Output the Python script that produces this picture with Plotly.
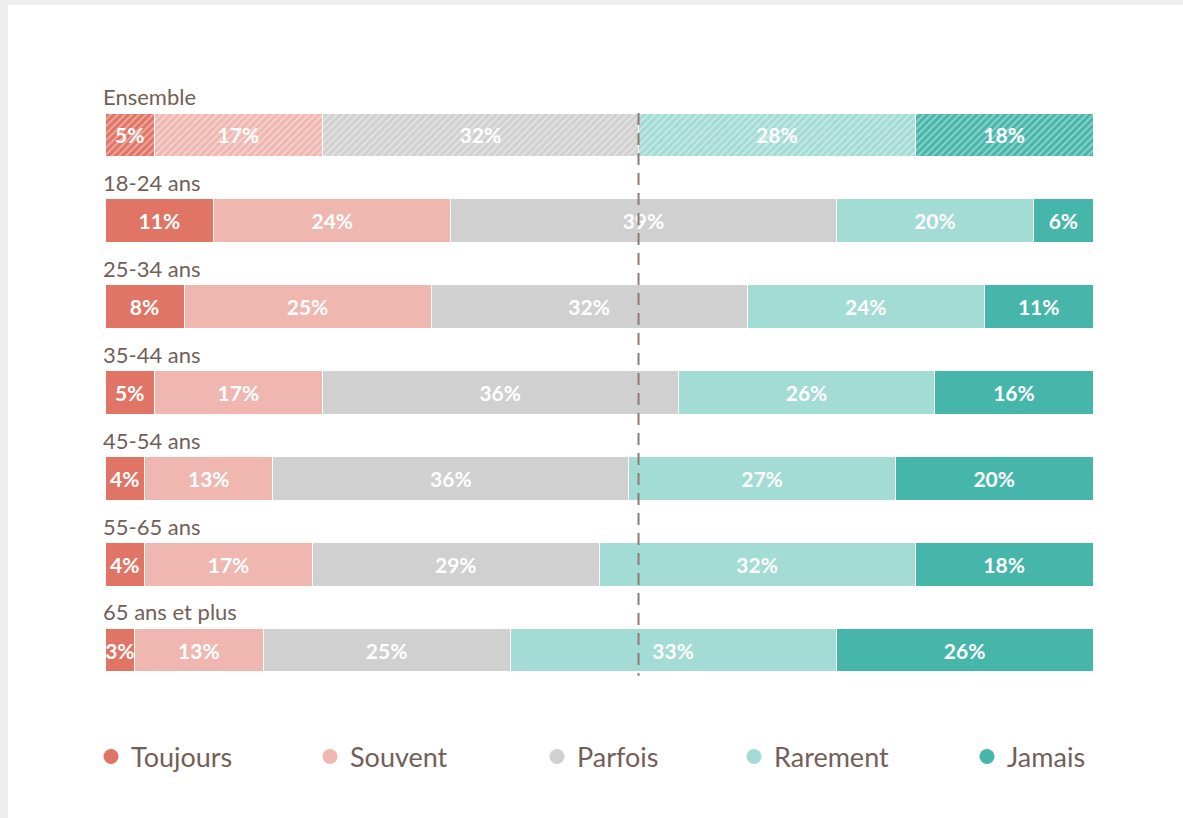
import plotly.graph_objects as go

rows = ["Ensemble", "18-24 ans", "25-34 ans", "35-44 ans", "45-54 ans", "55-65 ans", "65 ans et plus"]
series = ["Toujours", "Souvent", "Parfois", "Rarement", "Jamais"]
toujours = [5, 11, 8, 5, 4, 4, 3]
souvent = [17, 24, 25, 17, 13, 17, 13]
parfois = [32, 39, 32, 36, 36, 29, 25]
rarement = [28, 20, 24, 26, 27, 32, 33]
jamais = [18, 6, 11, 16, 20, 18, 26]
values = [toujours, souvent, parfois, rarement, jamais]
colors = ["#e07465", "#efb7b0", "#d0d0d0", "#a3dbd5", "#46b6ab"]
reference_line = 54  # boundary Parfois / Rarement for "Ensemble"

FONT = "Lato"
BROWN = "#735f58"

W, H = 1183, 818
ML, MR, MT, MB = 105, W - 1093, 92, H - 693
pw = W - ML - MR
ph = H - MT - MB

fig = go.Figure()
ypos = list(range(len(rows)))

for s, vals, col in zip(series, values, colors):
    # overall row (hatched)
    fig.add_trace(go.Bar(
        y=[ypos[0]], x=[vals[0]], orientation="h", name=s,
        marker=dict(color=col, line=dict(color="white", width=1),
                    pattern=dict(shape="/", fgcolor="rgba(255,255,255,0.8)", bgcolor=col,
                                 size=5, solidity=0.35)),
        text=[f"{vals[0]}%"], textposition="inside", insidetextanchor="middle", textangle=0,
        textfont=dict(color="white", size=21, family=FONT, weight="bold"),
        width=0.51, showlegend=False, hoverinfo="skip", cliponaxis=False,
    ))
    fig.add_trace(go.Bar(
        y=ypos[1:], x=vals[1:], orientation="h", name=s,
        marker=dict(color=col, line=dict(color="white", width=1)),
        text=[f"{v}%" for v in vals[1:]], textposition="inside", insidetextanchor="middle", textangle=0,
        textfont=dict(color="white", size=21, family=FONT, weight="bold"),
        width=0.51, showlegend=False, hoverinfo="skip", cliponaxis=False,
    ))

# legend entries with circle symbols, each in its own legend box
legend_px = [91, 310, 537, 734, 967]
for i, (s, col) in enumerate(zip(series, colors)):
    lname = "legend" if i == 0 else f"legend{i+1}"
    fig.add_trace(go.Scatter(
        x=[None], y=[None], mode="markers", name=s,
        marker=dict(color=col, size=15, symbol="circle"),
        legend=lname, showlegend=True,
    ))

legend_common = dict(orientation="h", yanchor="middle", y=(693 - 757) / ph,
                     xanchor="left", font=dict(family=FONT, size=27, color=BROWN),
                     bgcolor="rgba(0,0,0,0)", borderwidth=0)
layout_legends = {}
for i, px in enumerate(legend_px):
    lname = "legend" if i == 0 else f"legend{i+1}"
    layout_legends[lname] = dict(x=(px - ML) / pw, **legend_common)

annotations = []
for i, r in enumerate(rows):
    annotations.append(dict(
        x=0, xref="paper", y=i - 0.445, yref="y", text=r, showarrow=False,
        xanchor="left", yanchor="middle", xshift=-4,
        font=dict(family=FONT, size=22, color=BROWN),
    ))

shapes = [
    # page border (grey strip top & left)
    dict(type="rect", xref="paper", yref="paper", layer="below",
         x0=(8 - ML) / pw, x1=(W + 20 - ML) / pw, y0=(693 - (H + 20)) / ph, y1=(693 - 5) / ph,
         fillcolor="white", line=dict(width=0)),
    dict(type="line", xref="x", yref="y", layer="above",
         x0=reference_line, x1=reference_line, y0=-0.255, y1=6.3,
         line=dict(color="#8f7a74", width=2, dash="12px,8px")),
]

fig.update_layout(
    width=W, height=H,
    margin=dict(l=ML, r=MR, t=MT, b=MB, pad=0),
    paper_bgcolor="#efeeee", plot_bgcolor="white",
    barmode="stack",
    xaxis=dict(range=[0, 100], visible=False, fixedrange=True),
    yaxis=dict(range=[6.5, -0.5], visible=False, fixedrange=True),
    uniformtext=dict(minsize=21, mode="show"),
    annotations=annotations, shapes=shapes,
    font=dict(family=FONT, color=BROWN),
    **layout_legends,
)

fig.write_html("out.html", config={"displayModeBar": False},
               post_script="document.body.style.margin='0';document.body.style.overflow='hidden';")
